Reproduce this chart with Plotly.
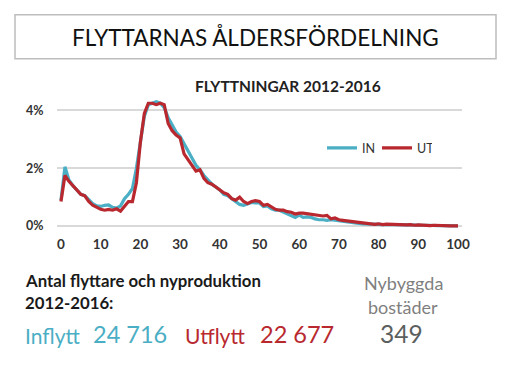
import plotly.graph_objects as go

ages = list(range(0, 101))

in_pct = [0.9, 2.05, 1.6, 1.4, 1.25, 1.1, 1.05, 0.9, 0.78, 0.7,
          0.68, 0.72, 0.73, 0.65, 0.62, 0.7, 0.95, 1.1, 1.3, 2.0,
          3.0, 3.8, 4.2, 4.25, 4.3, 4.25, 4.1, 3.75, 3.5, 3.25,
          3.1, 2.85, 2.6, 2.35, 2.1, 1.95, 1.75, 1.6, 1.45, 1.35,
          1.25, 1.1, 1.05, 0.95, 0.85, 0.75, 0.72, 0.78, 0.82, 0.8,
          0.8, 0.68, 0.7, 0.6, 0.55, 0.55, 0.48, 0.42, 0.35, 0.3,
          0.38, 0.3, 0.32, 0.3, 0.25, 0.22, 0.22, 0.2, 0.22, 0.2,
          0.18, 0.15, 0.14, 0.12, 0.1, 0.09, 0.08, 0.08, 0.07, 0.06,
          0.06, 0.05, 0.06, 0.05, 0.05, 0.04, 0.05, 0.04, 0.04, 0.03,
          0.04, 0.03, 0.03, 0.02, 0.03, 0.02, 0.02, 0.02, 0.01, 0.01,
          0.01]

ut_pct = [0.85, 1.75, 1.55, 1.4, 1.25, 1.1, 1.05, 0.85, 0.72, 0.65,
          0.58, 0.55, 0.58, 0.55, 0.6, 0.52, 0.7, 0.85, 0.85, 1.5,
          2.9, 3.9, 4.25, 4.25, 4.2, 4.25, 4.2, 3.55, 3.3, 3.15,
          3.05, 2.5, 2.3, 2.1, 1.9, 1.95, 1.65, 1.5, 1.45, 1.35,
          1.25, 1.15, 1.1, 0.95, 0.9, 1.0, 0.85, 0.78, 0.85, 0.88,
          0.85, 0.72, 0.75, 0.65, 0.58, 0.55, 0.55, 0.5, 0.48, 0.42,
          0.45, 0.45, 0.43, 0.42, 0.4, 0.38, 0.35, 0.37, 0.25, 0.28,
          0.22, 0.2, 0.18, 0.16, 0.14, 0.13, 0.12, 0.09, 0.07, 0.06,
          0.08, 0.05, 0.07, 0.06, 0.06, 0.05, 0.05, 0.04, 0.05, 0.03,
          0.04, 0.03, 0.03, 0.02, 0.03, 0.02, 0.02, 0.02, 0.01, 0.01,
          0.01]

x_ticks = [0, 10, 20, 30, 40, 50, 60, 70, 80, 90, 100]
y_ticks = [0, 2, 4]
y_tick_labels = ["0%", "2%", "4%"]

title_text = "FLYTTARNAS ÅLDERSFÖRDELNING"
subtitle_text = "FLYTTNINGAR 2012-2016"
series_names = ["IN", "UT"]
totals_label = ["Antal flyttare och nyproduktion", "2012-2016:"]
inflytt_label, inflytt_value = "Inflytt", "24 716"
utflytt_label, utflytt_value = "Utflytt", "22 677"
nybyggda_label = ["Nybyggda", "bostäder"]
nybyggda_value = "349"

CYAN = "#4aaec4"
RED = "#b8282e"
FONT = "Lato"

OFF = 8  # browser body margin
W, H = 512 - OFF, 369 - OFF
L, R = 57 - OFF, 462 - OFF
T, B = 95.5 - OFF, 229 - OFF


def px(x):
    return (x - OFF - L) / (R - L)


def py(y):
    return (B - (y - OFF)) / (B - T)


fig = go.Figure()
fig.add_trace(go.Scatter(x=ages, y=in_pct, mode="lines", name=series_names[0],
                         line=dict(color=CYAN, width=3.2)))
fig.add_trace(go.Scatter(x=ages, y=ut_pct, mode="lines", name=series_names[1],
                         line=dict(color=RED, width=3.2)))

ann = []


def text(x, y, s, size, color, xanchor="left", bold=False):
    ann.append(dict(x=px(x), y=py(y), xref="paper", yref="paper", text=(f"<b>{s}</b>" if bold else s),
                    showarrow=False, xanchor=xanchor, yanchor="middle",
                    font=dict(family=FONT, size=size, color=color)))


text(255, 37, title_text, 22.5, "#111111", xanchor="center")
text(288, 85, subtitle_text, 15.5, "#222222", xanchor="center", bold=True)
text(23, 281, totals_label[0], 16.8, "#1a1a1a", bold=True)
text(23, 303, totals_label[1], 16.8, "#1a1a1a", bold=True)
text(23, 336, inflytt_label, 21, CYAN)
text(91, 334, inflytt_value, 23.5, CYAN)
text(183, 336, utflytt_label, 21, RED)
text(258, 334, utflytt_value, 23.5, RED)
text(403, 283, nybyggda_label[0], 18, "#7f7f7f", xanchor="center")
text(403, 307, nybyggda_label[1], 18, "#7f7f7f", xanchor="center")
text(401, 334, nybyggda_value, 24.5, "#5b605f", xanchor="center")

fig.update_layout(
    width=W, height=H,
    margin=dict(l=L, r=W - R, t=T, b=H - B, autoexpand=False),
    paper_bgcolor="white", plot_bgcolor="white",
    font=dict(family=FONT, color="#333333"),
    showlegend=True,
    legend=dict(orientation="h", x=px(322), y=py(148), xanchor="left", yanchor="middle",
                bgcolor="rgba(0,0,0,0)", font=dict(family=FONT, size=12.5, color="#333333"),
                itemwidth=30, tracegroupgap=0, entrywidth=10, entrywidthmode="pixels"),
    annotations=ann,
    shapes=[dict(type="rect", xref="paper", yref="paper",
                 x0=px(15), x1=px(496), y0=py(14), y1=py(58),
                 line=dict(color="#bdbdbd", width=1.5), fillcolor="rgba(0,0,0,0)")],
    xaxis=dict(range=[-1, 101], tickvals=x_ticks, showgrid=False, zeroline=False,
               showline=False, ticks="outside", ticklen=3, tickcolor="rgba(0,0,0,0)",
               tickfont=dict(family=FONT, size=13.5, color="#333333", weight="bold")),
    yaxis=dict(range=[-0.1, 4.5], tickvals=y_ticks, ticktext=y_tick_labels,
               showgrid=True, gridcolor="#d9d9d9", gridwidth=1.5, zeroline=False,
               showline=False, ticks="outside", ticklen=10, tickcolor="rgba(0,0,0,0)",
               tickfont=dict(family=FONT, size=12.5, color="#333333", weight="bold")),
)

fig.write_html("out.html")
